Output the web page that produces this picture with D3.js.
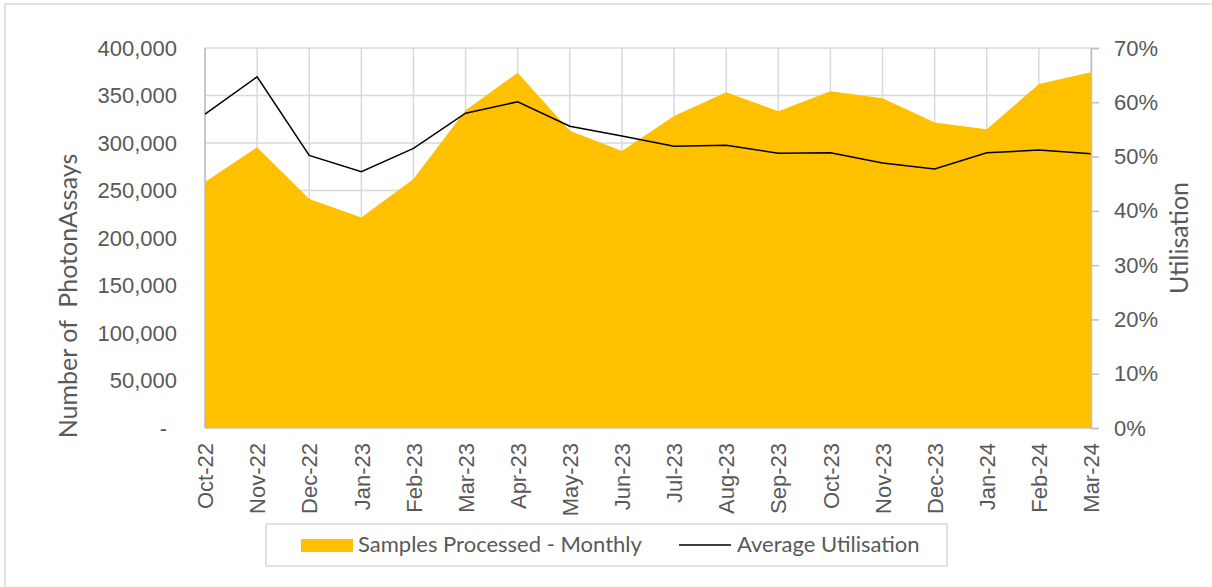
<!DOCTYPE html>
<html>
<head>
<meta charset="utf-8">
<script src="https://cdn.jsdelivr.net/npm/d3@7"></script>
<style>
  body { margin: 0; background: #fff; }
  svg { display: block; font-family: Lato, "Open Sans", sans-serif; }
  .tick text { fill: #595959; font-size: 22px; }
</style>
</head>
<body>
<svg id="chart" width="1212" height="587"></svg>
<script>
// monthly figures
const months = ['Oct-22', 'Nov-22', 'Dec-22', 'Jan-23', 'Feb-23', 'Mar-23', 'Apr-23', 'May-23', 'Jun-23',
  'Jul-23', 'Aug-23', 'Sep-23', 'Oct-23', 'Nov-23', 'Dec-23', 'Jan-24', 'Feb-24', 'Mar-24'];
const samples = [259000, 295500, 241000, 221500, 262000, 334500, 374000, 313000, 291500,
  328500, 353500, 333500, 354500, 347000, 321500, 314500, 362000, 374500];
const utilisation = [0.578, 0.647, 0.502, 0.472, 0.515, 0.580, 0.601, 0.556, 0.538,
  0.519, 0.521, 0.506, 0.507, 0.488, 0.477, 0.507, 0.512, 0.505];
const leftTicks = [0, 50000, 100000, 150000, 200000, 250000, 300000, 350000, 400000];
const rightTicks = [0, 0.1, 0.2, 0.3, 0.4, 0.5, 0.6, 0.7];

const svg = d3.select('#chart');
// plot box
const pLeft = 205, pRight = 1091, pTop = 48, pBottom = 428;
const grey = '#595959';

const x = d3.scalePoint().domain(months).range([pLeft, pRight]);
const yL = d3.scaleLinear().domain([0, 400000]).range([pBottom, pTop]);
const yR = d3.scaleLinear().domain([0, 0.7]).range([pBottom, pTop]);

// outer chart border (only left/top edges are in frame)
svg.append('path').attr('d', 'M5,587V4H1212')
  .attr('fill', 'none').attr('stroke', '#D9D9D9').attr('stroke-width', 1.5);

// gridlines
svg.append('g').selectAll('line').data(leftTicks.slice(1)).join('line')
  .attr('x1', pLeft).attr('x2', pRight)
  .attr('y1', d => yL(d)).attr('y2', d => yL(d))
  .attr('stroke', '#D9D9D9').attr('stroke-width', 1.5);
svg.append('g').selectAll('line').data(months).join('line')
  .attr('x1', d => x(d)).attr('x2', d => x(d))
  .attr('y1', pTop).attr('y2', pBottom)
  .attr('stroke', '#D9D9D9').attr('stroke-width', 1.5);

// samples area
const area = d3.area().x((d, i) => x(months[i])).y0(pBottom).y1(d => yL(d));
svg.append('path').datum(samples).attr('d', area).attr('fill', '#FFC000');

// axis lines
svg.append('line').attr('x1', pLeft).attr('x2', pLeft).attr('y1', pTop).attr('y2', pBottom)
  .attr('stroke', '#BFBFBF').attr('stroke-width', 1.5);
svg.append('line').attr('x1', pLeft).attr('x2', pRight).attr('y1', pBottom).attr('y2', pBottom)
  .attr('stroke', '#BFBFBF').attr('stroke-width', 1.5);

// utilisation line
const line = d3.line().x((d, i) => x(months[i])).y(d => yR(d));
svg.append('path').datum(utilisation).attr('d', line)
  .attr('fill', 'none').attr('stroke', '#000').attr('stroke-width', 1.5);

// left axis
const gL = svg.append('g').attr('transform', `translate(${pLeft},0)`)
  .call(d3.axisLeft(yL).tickValues(leftTicks).tickSize(0).tickPadding(28)
    .tickFormat(d => d === 0 ? '-' : d3.format(',')(d)));
gL.select('.domain').remove();
gL.selectAll('.tick').filter(d => d === 0).select('text').attr('dx', -10);

// right axis
const gR = svg.append('g').attr('transform', `translate(${pRight},0)`)
  .call(d3.axisRight(yR).tickValues(rightTicks).tickSize(8).tickPadding(15)
    .tickFormat(d3.format('.0%')));
gR.select('.domain').attr('stroke', '#BFBFBF').attr('stroke-width', 1.5);
gR.selectAll('.tick line').attr('stroke', '#BFBFBF').attr('stroke-width', 1.5);

// bottom axis, labels rotated
const gB = svg.append('g').attr('transform', `translate(0,${pBottom})`)
  .call(d3.axisBottom(x).tickSize(0));
gB.select('.domain').remove();
gB.selectAll('.tick text')
  .attr('transform', 'rotate(-90)')
  .attr('text-anchor', 'end')
  .attr('x', -15).attr('y', 0).attr('dy', '0.35em');

// axis titles
svg.append('text').attr('transform', 'translate(77,296) rotate(-90)')
  .attr('text-anchor', 'middle').style('white-space', 'pre')
  .attr('fill', grey).attr('font-size', 25).text('Number of  PhotonAssays');
svg.append('text').attr('transform', 'translate(1188,238) rotate(-90)')
  .attr('text-anchor', 'middle')
  .attr('fill', grey).attr('font-size', 25).text('Utilisation');

// legend
const lg = svg.append('g');
lg.append('rect').attr('x', 266).attr('y', 524).attr('width', 681).attr('height', 42)
  .attr('fill', '#fff').attr('stroke', '#D9D9D9').attr('stroke-width', 1.5);
lg.append('rect').attr('x', 301).attr('y', 539).attr('width', 52).attr('height', 13)
  .attr('fill', '#FFC000');
lg.append('text').attr('x', 358).attr('y', 552).attr('fill', grey).attr('font-size', 22)
  .text('Samples Processed - Monthly');
lg.append('line').attr('x1', 679).attr('x2', 731).attr('y1', 545).attr('y2', 545)
  .attr('stroke', '#000').attr('stroke-width', 1.5);
lg.append('text').attr('x', 737).attr('y', 552).attr('fill', grey).attr('font-size', 22)
  .text('Average Utilisation');
</script>
</body>
</html>
